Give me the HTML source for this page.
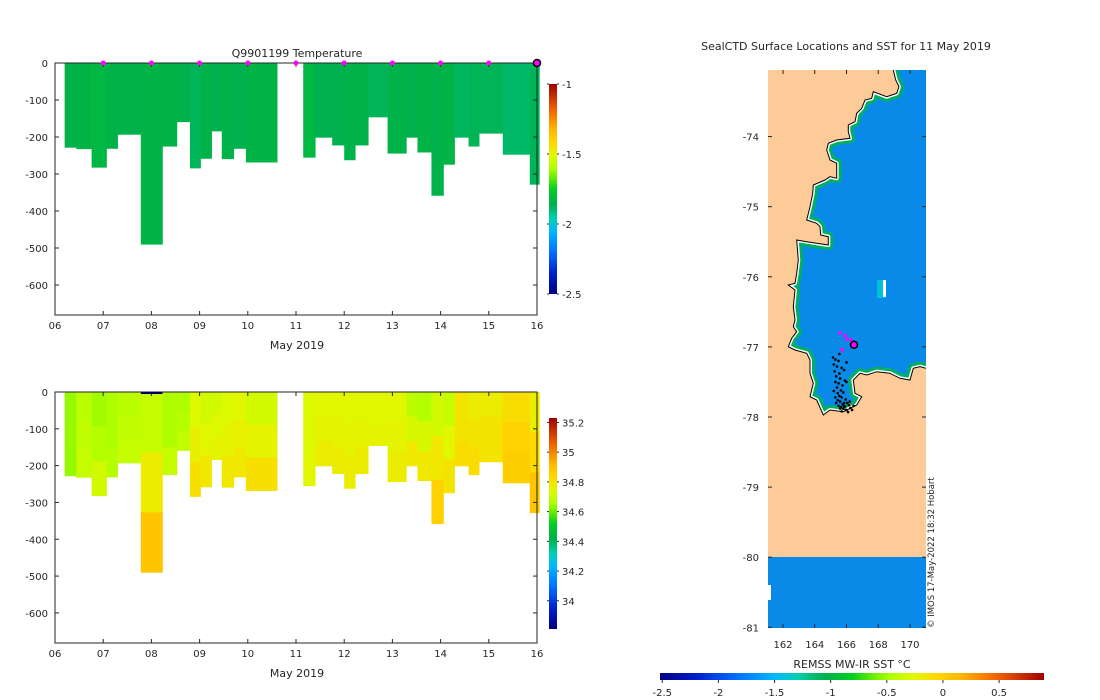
<!DOCTYPE html>
<html><head><meta charset="utf-8">
<style>
html,body{margin:0;padding:0;background:#fff;}
svg{display:block;font-family:"DejaVu Sans","Liberation Sans",sans-serif;}
text{fill:#262626;font-size:10px;}
</style></head>
<body>
<svg id="root" width="1100" height="700" viewBox="0 0 1100 700">
<defs>
 <linearGradient id="cbT" x1="0" y1="1" x2="0" y2="0"></linearGradient>
 <linearGradient id="cbS" x1="0" y1="1" x2="0" y2="0"></linearGradient>
 <linearGradient id="cbM" x1="0" y1="0" x2="1" y2="0"></linearGradient>
 <clipPath id="oceanClip"><path id="oceanPathClip"/></clipPath>
</defs>
<g id="tempChart"></g>
<g id="salChart"></g>
<g id="mapChart"></g>
</svg>
<script>
// ---------- profile data ----------
const profStart=[0.20,0.44,0.76,1.07,1.30,1.78,2.23,2.53,2.80,3.02,3.25,3.46,3.71,3.96,5.15,5.40,5.75,6.00,6.23,6.50,6.90,7.29,7.52,7.81,8.06,8.29,8.58,8.80,9.29,9.85];
const profEnd=[0.44,0.76,1.07,1.30,1.78,2.23,2.53,2.80,3.02,3.25,3.46,3.71,3.96,4.61,5.40,5.75,6.00,6.23,6.50,6.90,7.29,7.52,7.81,8.06,8.29,8.58,8.80,9.29,9.85,10.05];
const profDepth=[228,232,282,231,193,490,225,159,284,258,184,259,231,268,255,201,222,262,222,146,244,201,241,358,274,201,225,190,247,328];
const profTemp=[-1.85,-1.84,-1.83,-1.85,-1.85,-1.84,-1.84,-1.85,-1.87,-1.85,-1.86,-1.85,-1.86,-1.84,-1.83,-1.86,-1.86,-1.85,-1.85,-1.87,-1.85,-1.86,-1.84,-1.85,-1.84,-1.88,-1.87,-1.87,-1.89,-1.87];
const salTop=[34.64,34.68,34.65,34.66,34.68,34.70,34.66,34.66,34.74,34.72,34.72,34.74,34.75,34.72,34.74,34.75,34.75,34.75,34.75,34.75,34.75,34.68,34.67,34.72,34.70,34.80,34.78,34.78,34.82,34.78];
const salMid=[34.64,34.69,34.67,34.66,34.69,34.78,34.66,34.67,34.77,34.75,34.74,34.76,34.77,34.76,34.74,34.76,34.76,34.76,34.76,34.75,34.76,34.73,34.73,34.79,34.75,34.80,34.80,34.80,34.85,34.83];
const salBot=[34.64,34.70,34.72,34.67,34.70,34.88,34.70,34.69,34.81,34.79,34.76,34.79,34.79,34.81,34.75,34.78,34.78,34.78,34.78,34.76,34.78,34.79,34.79,34.85,34.80,34.82,34.82,34.80,34.86,34.88];
const markerDays=[1,2,3,4,5,6,7,8,9];
const lastDay=10;
const dayTicks=['06','07','08','09','10','11','12','13','14','15','16'];
const depthTicks=[0,-100,-200,-300,-400,-500,-600];
const tempCbTicks=[-1,-1.5,-2,-2.5];
const salCbTicks=[35.2,35,34.8,34.6,34.4,34.2,34];
const sstCbTicks=[-2.5,-2,-1.5,-1,-0.5,0,0.5];
// seal track (lon, lat)
const trackLon=[165.15,165.3,165.5,165.2,165.4,165.7,165.25,165.55,165.85,165.35,165.6,165.9,165.3,165.5,165.75,166.0,165.4,165.65,165.2,165.45,165.8,165.55,165.3,165.7,165.95,165.45,165.6,165.85,165.35,165.75,166.05,165.5,165.65,165.9,166.15,165.6,165.8,166.0,166.25,165.7,165.95,166.1,166.35,165.85,166.2,166.45,165.55,166.0];
const trackLat=[-77.15,-77.18,-77.2,-77.25,-77.28,-77.3,-77.35,-77.38,-77.33,-77.42,-77.45,-77.48,-77.5,-77.52,-77.55,-77.5,-77.58,-77.62,-77.63,-77.66,-77.65,-77.7,-77.72,-77.72,-77.75,-77.76,-77.78,-77.8,-77.8,-77.82,-77.8,-77.84,-77.86,-77.85,-77.83,-77.88,-77.88,-77.9,-77.87,-77.92,-77.9,-77.93,-77.9,-77.85,-77.78,-77.84,-77.1,-77.22];
const magLon=[165.59,165.91,166.03,166.28,165.72];
const magLat=[-76.80,-76.84,-76.89,-76.90,-77.04];
const curLon=166.47, curLat=-76.97;

const NS='http://www.w3.org/2000/svg';
function mk(tag,attrs,parent){const e=document.createElementNS(NS,tag);for(const k in attrs)e.setAttribute(k,attrs[k]);parent.appendChild(e);return e;}
const stops=[[0,'#000080'],[0.1,'#0020d0'],[0.2,'#0070ff'],[0.3,'#00b8ff'],[0.36,'#00d0b0'],[0.4,'#00bc70'],[0.43,'#00b04c'],[0.5,'#00d020'],[0.56,'#70f000'],[0.6,'#b0ff00'],[0.66,'#e0f800'],[0.72,'#ffd800'],[0.78,'#ffb800'],[0.88,'#f06000'],[1,'#a00000']];
function hex(c){return [parseInt(c.substr(1,2),16),parseInt(c.substr(3,2),16),parseInt(c.substr(5,2),16)];}
function cmap(f){f=Math.max(0,Math.min(1,f));for(let i=1;i<stops.length;i++){if(f<=stops[i][0]){const a=stops[i-1],b=stops[i];const t=(f-a[0])/(b[0]-a[0]);const A=hex(a[1]),B=hex(b[1]);return 'rgb('+A.map((v,j)=>Math.round(v+(B[j]-v)*t)).join(',')+')';}}return stops[stops.length-1][1];}
['cbT','cbS','cbM'].forEach(id=>{const g=document.getElementById(id);stops.forEach(s=>mk('stop',{offset:s[0],'stop-color':s[1]},g));});

function profileChart(g,y0,yBottom,colorVals,vmin,vmax,cbTop,cbBot,cbId,cbTicks,showMarkers){
 const xL=55,xR=537;
 const xs=d=>xL+(xR-xL)*d/10;
 const ys=m=>y0+m*(222/600)*(yBottom>400?0.995:1);
 for(let i=0;i<profStart.length;i++){
  const vals=colorVals(i);
  const n=vals.length;
  for(let k=0;k<n;k++){
   const r=mk('rect',{x:xs(profStart[i]),y:ys(profDepth[i]*k/n),width:xs(profEnd[i])-xs(profStart[i])+0.3,height:ys(profDepth[i]*(k+1)/n)-ys(profDepth[i]*k/n)+0.3,fill:cmap((vals[k]-vmin)/(vmax-vmin))},g);
   
   
  }
 }
 const ax=mk('g',{},g);
 
 
 mk('rect',{x:xL,y:y0,width:xR-xL,height:yBottom-y0,fill:'none',stroke:'#262626','stroke-width':1},ax);
 dayTicks.forEach((t,i)=>{const x=xs(i);
  mk('line',{x1:x,x2:x,y1:yBottom,y2:yBottom-4,stroke:'#262626'},ax);
  mk('line',{x1:x,x2:x,y1:y0,y2:y0+4,stroke:'#262626'},ax);
  const tx=mk('text',{x:x,y:yBottom+14,'text-anchor':'middle'},ax);tx.textContent=t;
  
  });
 const xt=mk('text',{x:297,y:yBottom+34,'text-anchor':'middle',style:'font-size:11px'},ax);xt.textContent='May 2019';
 
 
 depthTicks.forEach(d=>{const y=ys(-d);
  mk('line',{x1:xL,x2:xL+4,y1:y,y2:y,stroke:'#262626'},ax);
  mk('line',{x1:xR,x2:xR-4,y1:y,y2:y,stroke:'#262626'},ax);
  const tx=mk('text',{x:xL-7,y:y+4,'text-anchor':'end'},ax);tx.textContent=d;
  
  });
 const cb=mk('g',{},g);
 
 
 mk('rect',{x:549,y:cbTop,width:8,height:cbBot-cbTop,fill:'url(#'+cbId+')'},cb);
 cbTicks.forEach(v=>{const y=cbBot-(v-vmin)/(vmax-vmin)*(cbBot-cbTop);
  mk('line',{x1:549,x2:547,y1:y,y2:y,stroke:'#262626'},cb);
  mk('line',{x1:557,x2:559,y1:y,y2:y,stroke:'#262626'},cb);
  const tx=mk('text',{x:562,y:y+4},cb);tx.textContent=v;
  
  });
 if(showMarkers){
  markerDays.forEach(d=>{const m=mk('circle',{cx:xs(d),cy:y0,r:2.5,fill:'#ff00ff'},g);
   
   });
  const c=mk('circle',{cx:xs(lastDay),cy:y0,r:3.5,fill:'#ff00ff',stroke:'#000','stroke-width':1.5},g);
  
  
 }
 return {xs,ys};
}
const tg=document.getElementById('tempChart');
profileChart(tg,63,315,i=>[profTemp[i]],-2.5,-1,84,294,'cbT',tempCbTicks,true);
const tt=mk('text',{x:297,y:57,'text-anchor':'middle',style:'font-size:11px'},tg);tt.textContent='Q9901199  Temperature';


const sg=document.getElementById('salChart');
const sAx=profileChart(sg,392,643,i=>[salTop[i],salMid[i],salBot[i]],33.81,35.23,418,629,'cbS',salCbTicks,false);
const nav=mk('rect',{x:sAx.xs(1.78),y:392,width:sAx.xs(2.23)-sAx.xs(1.78),height:2,fill:'#000060'},sg);



// ---------- map ----------
const mg=document.getElementById('mapChart');
const lonS=l=>783+(l-162)*15.875;
const latS=l=>70+(-73.05-l)*70.1;
mk('rect',{x:768,y:70,width:158,height:558,fill:'#fdcb98'},mg);
mk('rect',{x:768,y:557,width:158,height:71,fill:'#0a8ae8'},mg);
mk('rect',{x:768,y:585,width:3,height:15,fill:'#fff'},mg);
const coast='490,30 497,60 507,80 500,100 470,110 430,95 425,115 405,120 395,145 380,160 375,185 355,195 355,215 360,235 320,240 295,250 290,270 300,300 320,310 320,355 300,350 285,360 250,375 248,400 240,440 230,480 260,490 270,500 272,525 295,530 295,555 230,545 200,540 205,600 200,640 195,670 175,675 195,690 190,740 195,780 190,800 200,815 185,835 175,860 195,870 230,880 240,900 240,940 250,970 240,1010 260,1020 280,1065 300,1050 340,1055 380,1035 395,1010 375,1000 370,960 390,940 410,945 440,935 480,940 510,955 540,960 550,925 570,920 588,925';
const ptsPx=coast.split(' ').map(p=>{const [a,b]=p.split(',').map(Number);return [730+a/3,60+b/3];});
const coastD='M'+ptsPx.map(p=>p[0].toFixed(1)+','+p[1].toFixed(1)).join(' L');
document.getElementById('oceanPathClip').setAttribute('d',coastD+' L926,70 Z');
const oc=mk('g',{'clip-path':'url(#oceanClip)'},mg);


mk('rect',{x:768,y:70,width:158,height:360,fill:'#0a8ae8'},oc);
mk('path',{d:coastD,fill:'none',stroke:'#00b060','stroke-width':10,'stroke-linejoin':'round'},oc);
mk('path',{d:coastD,fill:'none',stroke:'#fff','stroke-width':4,'stroke-linejoin':'round'},oc);
mk('rect',{x:877,y:280,width:9,height:18,fill:'#00c0e0'},oc);
mk('rect',{x:883,y:280,width:3,height:17,fill:'#fff'},oc);
const cl=mk('path',{d:coastD,fill:'none',stroke:'#000','stroke-width':1},mg);


for(let i=0;i<trackLon.length;i++){const d=mk('circle',{cx:lonS(trackLon[i]),cy:latS(trackLat[i]),r:1.3,fill:'#000'},mg);
 
 }
for(let i=0;i<magLon.length;i++){const d=mk('circle',{cx:lonS(magLon[i]),cy:latS(magLat[i]),r:1.8,fill:'#ff00ff'},mg);
 
 }
const cur=mk('circle',{cx:lonS(curLon),cy:latS(curLat),r:3.5,fill:'#ff00ff',stroke:'#000','stroke-width':1.5},mg);


[162,164,166,168,170].forEach(l=>{const x=lonS(l);
 mk('line',{x1:x,x2:x,y1:70,y2:74,stroke:'#262626'},mg);
 mk('line',{x1:x,x2:x,y1:628,y2:624,stroke:'#262626'},mg);
 const t=mk('text',{x:x,y:648,'text-anchor':'middle'},mg);t.textContent=l;
 
 });
[-74,-75,-76,-77,-78,-79,-80,-81].forEach(l=>{const y=latS(l);
 mk('line',{x1:926,x2:922,y1:y,y2:y,stroke:'#262626'},mg);
 mk('line',{x1:768,x2:772,y1:y,y2:y,stroke:'#262626'},mg);
 const t=mk('text',{x:759,y:y+4,'text-anchor':'end'},mg);t.textContent=l;
 
 });
const mt=mk('text',{x:846,y:50,'text-anchor':'middle',style:'font-size:11px'},mg);mt.textContent='SealCTD Surface Locations and SST for 11 May 2019';


const cp=mk('text',{x:0,y:0,transform:'translate(934,628) rotate(-90)',style:'font-size:8.5px'},mg);cp.textContent='© IMOS 17-May-2022 18:32 Hobart';


const sstMin=-2.52,sstMax=0.9;
mk('rect',{x:660,y:673,width:384,height:7,fill:'url(#cbM)'},mg);
sstCbTicks.forEach(v=>{const x=660+(v-sstMin)/(sstMax-sstMin)*384;
 mk('line',{x1:x,x2:x,y1:680,y2:683,stroke:'#262626'},mg);
 const t=mk('text',{x:x,y:696,'text-anchor':'middle'},mg);t.textContent=v;
 
 });
const ct=mk('text',{x:852,y:668,'text-anchor':'middle',style:'font-size:11px'},mg);ct.textContent='REMSS MW-IR SST °C';


</script>
</body></html>
